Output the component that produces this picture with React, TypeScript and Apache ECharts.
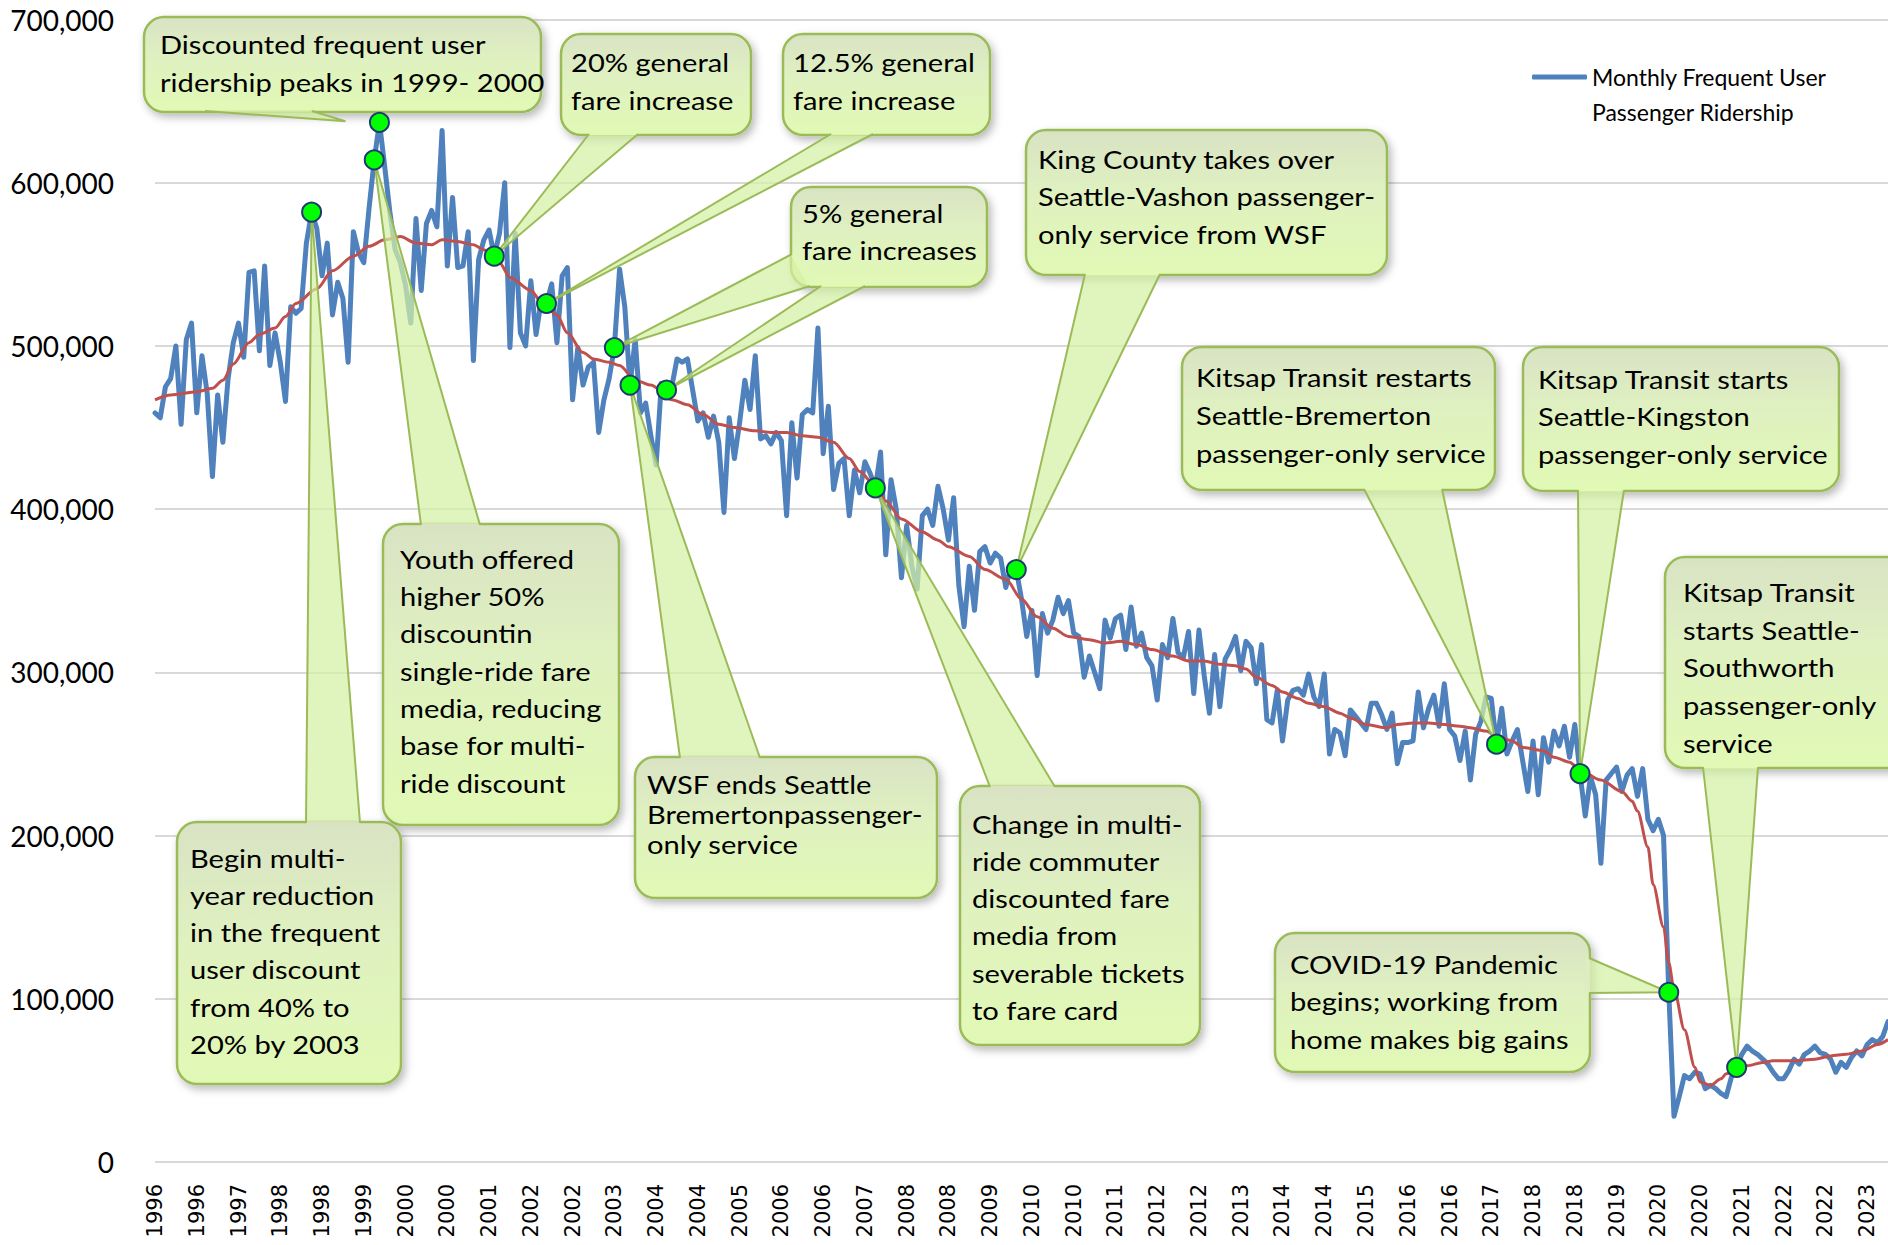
import React, { useEffect, useRef } from "react";
import * as echarts from "echarts";

const W = 1888;
const H = 1245;

const seriesName = "Monthly Frequent User Passenger Ridership";
const legendLines = ["Monthly Frequent User", "Passenger Ridership"];

const startYear = 1996;
const xTickLabels = [
  "1996", "1996", "1997", "1998", "1998", "1999", "2000", "2000", "2001", "2002", "2002",
  "2003", "2004", "2004", "2005", "2006", "2006", "2007", "2008", "2008", "2009", "2010",
  "2010", "2011", "2012", "2012", "2013", "2014", "2014", "2015", "2016", "2016", "2017",
  "2018", "2018", "2019", "2020", "2020", "2021", "2022", "2022", "2023",
];
const yTickLabels = ["0", "100,000", "200,000", "300,000", "400,000", "500,000", "600,000", "700,000"];

// Monthly frequent-user ridership, thousands, Jan 1996 .. Sep 2023
const ridershipK = [
  459, 456, 475, 480, 500, 452, 504, 514, 459, 494,
  471, 420, 470, 441, 480, 502, 514, 493, 545, 546,
  497, 549, 488, 508, 490, 466, 524, 520, 523, 563,
  582, 572, 543, 563, 519, 539, 529, 490, 570, 557,
  551, 584, 614, 637, 610, 582, 559, 551, 537, 514,
  578, 534, 575, 583, 573, 632, 549, 591, 548, 549,
  570, 491, 553, 565, 571, 555, 569, 600, 499, 569,
  508, 500, 540, 507, 528, 526, 538, 502, 543, 548,
  467, 499, 476, 487, 490, 447, 467, 480, 499, 547,
  524, 476, 504, 459, 465, 445, 427, 477, 473, 475,
  492, 490, 492, 473, 454, 459, 444, 457, 441, 398,
  456, 431, 453, 479, 461, 494, 443, 445, 440, 447,
  442, 396, 453, 419, 458, 461, 459, 511, 434, 463,
  412, 428, 431, 396, 424, 410, 429, 422, 413, 435,
  372, 418, 400, 358, 390, 365, 351, 396, 400, 390,
  414, 400, 381, 407, 353, 328, 365, 338, 374, 377,
  367, 373, 370, 352, 365, 363, 345, 322, 338, 298,
  336, 324, 332, 346, 336, 344, 324, 322, 297, 310,
  300, 290, 332, 321, 333, 335, 314, 340, 316, 324,
  309, 304, 283, 317, 309, 333, 312, 309, 325, 287,
  326, 298, 275, 311, 279, 308, 314, 322, 301, 319,
  315, 293, 317, 271, 269, 289, 258, 283, 289, 290,
  286, 299, 285, 279, 299, 250, 265, 263, 249, 277,
  273, 269, 265, 281, 281, 274, 265, 275, 244, 257,
  257, 258, 288, 266, 278, 286, 267, 293, 265, 261,
  246, 264, 234, 262, 270, 285, 284, 256, 278, 250,
  258, 265, 246, 227, 258, 225, 260, 245, 264, 255,
  267, 248, 268, 238, 212, 236, 225, 183, 234, 238,
  242, 227, 237, 241, 224, 241, 210, 203, 210, 200,
  104, 28, 40, 53, 51, 55, 54, 45, 47, 45,
  42, 40, 52, 58, 66, 71, 68, 66, 63, 60,
  55, 51, 51, 56, 63, 60, 66, 68, 71, 67,
  66, 63, 55, 61, 58, 64, 68, 65, 72, 75,
  73, 77, 86,
];

// Trend line readings: [month index, thousands]
const trendK: [number, number][] = [
  [0, 467], [3, 470], [8, 472], [11, 474], [13, 479], [15, 489], [18, 502], [20, 507], [23, 511],
  [25, 518], [27, 526], [31, 535], [34, 546], [38, 555], [41, 561], [44, 565], [47, 567], [50, 563],
  [53, 562], [55, 565], [58, 564], [61, 562], [63, 559], [66, 551], [68, 542], [72, 534], [74, 527],
  [77, 519], [79, 508], [82, 496], [84, 492], [87, 490], [89, 488], [92, 479], [95, 476], [99, 467],
  [102, 464], [105, 458], [108, 452], [111, 450], [115, 448], [118, 447], [121, 447], [124, 445],
  [127, 444], [130, 441], [133, 431], [135, 423], [138, 414], [140, 405], [143, 394], [147, 386],
  [150, 381], [152, 377], [156, 371], [159, 363], [163, 357], [166, 345], [169, 334], [172, 327],
  [175, 322], [179, 320], [182, 318], [185, 319], [188, 317], [191, 314], [195, 310], [198, 307],
  [201, 307], [204, 305], [207, 304], [209, 302], [211, 297], [214, 292], [216, 288], [219, 284],
  [221, 281], [224, 279], [227, 275], [229, 272], [232, 268], [236, 266], [238, 268], [241, 269],
  [244, 269], [247, 268], [250, 267], [252, 266], [255, 264], [257, 261], [260, 258], [262, 254],
  [266, 252], [268, 248], [271, 245], [273, 240], [277, 234], [281, 227], [283, 221], [284, 215],
  [286, 193], [287, 170], [289, 144], [290, 122], [291, 106], [293, 81], [295, 58], [296, 49],
  [298, 47], [300, 51], [301, 54], [303, 57], [305, 59], [308, 61], [310, 62], [314, 62], [318, 63],
  [321, 65], [324, 66], [327, 68], [330, 72], [332, 75],
];

// Months that carry an event marker
const eventMonths = [30, 42, 43, 65, 75, 88, 91, 98, 138, 165, 257, 273, 290, 303];

const months = ridershipK.map(
  (_, i) => `${startYear + Math.floor(i / 12)}-${String((i % 12) + 1).padStart(2, "0")}`
);

type Wedge = { base: [number, number][]; idx: number; dx?: number; dy?: number };
type Callout = { lines: string[]; box: [number, number, number, number]; tx: number; ty: number; lh: number; wedges: Wedge[] };

const callouts: Callout[] = [
  { lines: ["Discounted frequent user", "ridership peaks in 1999- 2000"], box: [144, 17, 397, 95], tx: 160, ty: 44.5, lh: 37.5,
    wedges: [{ base: [[205, 111], [312, 111]], idx: 43, dx: -34, dy: -1 }] },
  { lines: ["20% general", "fare increase"], box: [561, 34, 190, 101], tx: 571, ty: 62.6, lh: 37.4,
    wedges: [{ base: [[589, 134], [638, 134]], idx: 65 }] },
  { lines: ["12.5% general", "fare increase"], box: [783, 34, 207, 101], tx: 793, ty: 62.6, lh: 37.4,
    wedges: [{ base: [[831, 134], [873, 134]], idx: 75 }] },
  { lines: ["5% general", "fare increases"], box: [791, 187, 196, 100], tx: 802, ty: 213, lh: 37,
    wedges: [{ base: [[792, 254], [810, 286]], idx: 88 }, { base: [[821, 286], [865, 286]], idx: 98 }] },
  { lines: ["King County takes over", "Seattle-Vashon passenger-", "only service from WSF"], box: [1026, 130, 361, 145], tx: 1038, ty: 159, lh: 37.5,
    wedges: [{ base: [[1085, 274], [1160, 274]], idx: 165 }] },
  { lines: ["Youth offered", "higher 50%", "discountin", "single-ride fare", "media, reducing", "base for multi-", "ride discount"], box: [383, 524, 236, 301], tx: 400, ty: 559, lh: 37.3,
    wedges: [{ base: [[421, 525], [480, 525]], idx: 42 }] },
  { lines: ["Begin multi-", "year reduction", "in the frequent", "user discount", "from 40% to", "20% by 2003"], box: [177, 822, 224, 262], tx: 190, ty: 858, lh: 37.2,
    wedges: [{ base: [[306, 823], [360, 823]], idx: 30 }] },
  { lines: ["WSF ends Seattle", "Bremertonpassenger-", "only service"], box: [635, 757, 302, 141], tx: 647, ty: 784, lh: 30,
    wedges: [{ base: [[680, 758], [760, 758]], idx: 91 }] },
  { lines: ["Change in multi-", "ride commuter", "discounted fare", "media from", "severable tickets", "to fare card"], box: [960, 786, 240, 259], tx: 972, ty: 824, lh: 37.2,
    wedges: [{ base: [[990, 787], [1055, 787]], idx: 138 }] },
  { lines: ["Kitsap Transit restarts", "Seattle-Bremerton", "passenger-only service"], box: [1182, 347, 313, 143], tx: 1196, ty: 377, lh: 38,
    wedges: [{ base: [[1364, 489], [1442, 489]], idx: 257 }] },
  { lines: ["Kitsap Transit starts", "Seattle-Kingston", "passenger-only service"], box: [1523, 347, 316, 144], tx: 1538, ty: 379, lh: 37.5,
    wedges: [{ base: [[1578, 490], [1624, 490]], idx: 273 }] },
  { lines: ["COVID-19 Pandemic", "begins; working from", "home makes big gains"], box: [1275, 933, 315, 139], tx: 1290, ty: 964, lh: 37.5,
    wedges: [{ base: [[1589, 958], [1589, 993]], idx: 290 }] },
  { lines: ["Kitsap Transit", "starts Seattle-", "Southworth", "passenger-only", "service"], box: [1665, 557, 250, 211], tx: 1683, ty: 592, lh: 37.8,
    wedges: [{ base: [[1703, 767], [1758, 767]], idx: 303 }] },
];

const BOX_TOP = "#d9e3c4";
const BOX_MID = "#dff1c0";
const BOX_BOTTOM = "#e1f9b5";
const BORDER = "#9bbb59";
const TEXT_STRETCH = 1.12;

function hexToRgb(h: string) {
  const n = parseInt(h.slice(1), 16);
  return [(n >> 16) & 255, (n >> 8) & 255, n & 255];
}
function mix(a: string, b: string, t: number) {
  const A = hexToRgb(a), B = hexToRgb(b);
  const c = A.map((v, i) => Math.round(v + (B[i] - v) * t));
  return `rgb(${c[0]},${c[1]},${c[2]})`;
}
function colorAt(f: number) {
  const t = Math.max(0, Math.min(1, f));
  return t < 0.45 ? mix(BOX_TOP, BOX_MID, t / 0.45) : mix(BOX_MID, BOX_BOTTOM, (t - 0.45) / 0.55);
}

function buildCallouts(chart: any) {
  const els: any[] = [];
  callouts.forEach((c) => {
    const [bx, by, bw, bh] = c.box;
    els.push({
      type: "rect",
      z: 10,
      shape: { x: bx, y: by, width: bw, height: bh, r: 20 },
      style: {
        fill: new echarts.graphic.LinearGradient(0, 0, 0, 1, [
          { offset: 0, color: BOX_TOP },
          { offset: 0.45, color: BOX_MID },
          { offset: 1, color: BOX_BOTTOM },
        ]),
        stroke: BORDER,
        lineWidth: 2.5,
        shadowBlur: 8,
        shadowOffsetX: 3,
        shadowOffsetY: 4,
        shadowColor: "rgba(0,0,0,0.28)",
      },
    });
    c.wedges.forEach((w) => {
      const p = chart.convertToPixel({ seriesIndex: 0 }, [w.idx, ridershipK[w.idx]]);
      const tip = [p[0] + (w.dx || 0), p[1] + (w.dy || 0)];
      const [b1, b2] = w.base;
      const mid = [(b1[0] + b2[0]) / 2, (b1[1] + b2[1]) / 2];
      const len = Math.hypot(tip[0] - mid[0], tip[1] - mid[1]) || 1;
      const d = [(tip[0] - mid[0]) / len, (tip[1] - mid[1]) / len];
      els.push({
        type: "polygon",
        z: 11,
        shape: { points: [b1, tip, b2] },
        style: { fill: "rgba(212,240,164,0.72)" },
      });
      const f = (mid[1] - by) / bh;
      els.push({
        type: "polygon",
        z: 12,
        shape: {
          points: [
            [b1[0] - d[0] * 4, b1[1] - d[1] * 4],
            [b2[0] - d[0] * 4, b2[1] - d[1] * 4],
            [b2[0] + d[0] * 1.5, b2[1] + d[1] * 1.5],
            [b1[0] + d[0] * 1.5, b1[1] + d[1] * 1.5],
          ],
        },
        style: { fill: colorAt(f) },
      });
      els.push({
        type: "polyline",
        z: 13,
        shape: { points: [b1, tip, b2] },
        style: { stroke: BORDER, lineWidth: 2, fill: null },
      });
    });
    els.push({
      type: "text",
      z: 14,
      x: c.tx,
      y: c.ty - c.lh / 2,
      scaleX: TEXT_STRETCH,
      style: {
        text: c.lines.join("\n"),
        fontFamily: "Lato",
        fontSize: 26,
        fill: "#000",
        lineHeight: c.lh,
        align: "left",
        verticalAlign: "top",
      },
    });
  });
  return els;
}

export default function App() {
  const ref = useRef<HTMLDivElement>(null);
  useEffect(() => {
    const el = ref.current;
    if (!el) return;
    const chart = echarts.init(el, null, { renderer: "svg" });
    chart.setOption({
      animation: false,
      backgroundColor: "#ffffff",
      grid: { left: 155, right: 0, top: 19.5, bottom: 83, containLabel: false },
      legend: {
        data: [seriesName],
        left: 1532,
        top: 24.5,
        padding: 0,
        itemWidth: 55,
        itemHeight: 5,
        icon: "roundRect",
        formatter: () => "\n" + legendLines.join("\n"),
        textStyle: {
          fontFamily: "Lato",
          fontSize: 23,
          color: "#000",
          lineHeight: 35,
        },
      },
      xAxis: {
        type: "category",
        data: months,
        boundaryGap: false,
        axisLine: { show: false },
        axisTick: { show: false },
        splitLine: { show: false },
        axisLabel: {
          interval: 7,
          rotate: 90,
          margin: 22,
          fontFamily: "DejaVu Sans",
          fontSize: 21,
          color: "#000",
          formatter: (_v: string, idx: number) => xTickLabels[idx / 8] ?? "",
        },
      },
      yAxis: {
        type: "value",
        min: 0,
        max: 700,
        interval: 100,
        axisLine: { show: false },
        axisTick: { show: false },
        splitLine: { lineStyle: { color: "#d9d9d9", width: 2 } },
        axisLabel: {
          margin: 41,
          fontFamily: "Lato",
          fontSize: 28,
          color: "#000",
          formatter: (v: number) => yTickLabels[Math.round(v / 100)],
        },
      },
      series: [
        {
          name: seriesName,
          type: "line",
          data: ridershipK,
          showSymbol: false,
          symbol: "none",
          lineStyle: { color: "#4f81bd", width: 5, join: "round", cap: "round" },
          itemStyle: { color: "#4f81bd" },
          z: 2,
        },
        {
          name: "Trend",
          type: "line",
          data: trendK,
          showSymbol: false,
          symbol: "none",
          smooth: 0.3,
          smoothMonotone: "x",
          lineStyle: { color: "#c0504d", width: 3 },
          itemStyle: { color: "#c0504d" },
          z: 3,
          silent: true,
        },
        {
          name: "Events",
          type: "scatter",
          data: eventMonths.map((i) => [i, ridershipK[i]]),
          symbol: "circle",
          symbolSize: 19,
          itemStyle: { color: "#00ff00", borderColor: "#1f3a6e", borderWidth: 2, opacity: 1 },
          z: 20,
          silent: true,
        },
      ],
    });
    chart.setOption({ graphic: { elements: buildCallouts(chart) } });
    return () => chart.dispose();
  }, []);
  return (
    <div
      ref={ref}
      style={{ position: "absolute", left: 0, top: 0, width: W, height: H, background: "#fff" }}
    />
  );
}
